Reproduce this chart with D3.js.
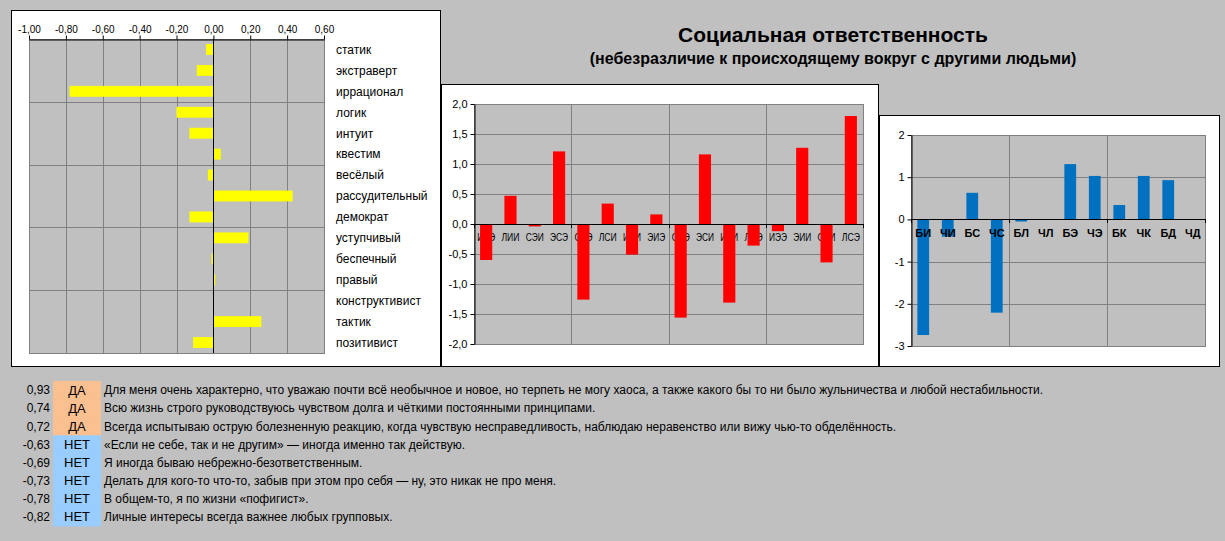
<!DOCTYPE html>
<html><head><meta charset="utf-8">
<script src="https://cdn.jsdelivr.net/npm/d3@7"></script>
<style>
html,body{margin:0;padding:0;background:#c0c0c0;}
svg{display:block;font-family:Arial,"Liberation Sans",sans-serif;}
</style></head>
<body>
<svg id="c" width="1225" height="541"></svg>
<script>
// ---------- DATA ----------
const leftCats = ["статик","экстраверт","иррационал","логик","интуит","квестим","весёлый","рассудительный","демократ","уступчивый","беспечный","правый","конструктивист","тактик","позитивист"];
const leftVals = [-0.04,-0.09,-0.78,-0.20,-0.13,0.04,-0.03,0.43,-0.13,0.19,-0.01,0.01,0.00,0.26,-0.11];
const leftTicks = [-1.0,-0.8,-0.6,-0.4,-0.2,0.0,0.2,0.4,0.6];

const midCats = ["ИЛЭ","ЛИИ","СЭИ","ЭСЭ","СЛЭ","ЛСИ","ИЭИ","ЭИЭ","СЭЭ","ЭСИ","ИЛИ","ЛИЭ","ИЭЭ","ЭИИ","СЛИ","ЛСЭ"];
const midVals = [-0.60,0.47,-0.04,1.21,-1.26,0.34,-0.51,0.16,-1.56,1.16,-1.31,-0.36,-0.12,1.27,-0.64,1.80];
const midTicks = [2.0,1.5,1.0,0.5,0.0,-0.5,-1.0,-1.5,-2.0];

const rightCats = ["БИ","ЧИ","БС","ЧС","БЛ","ЧЛ","БЭ","ЧЭ","БК","ЧК","БД","ЧД"];
const rightVals = [-2.74,-0.41,0.63,-2.21,-0.05,0.00,1.31,1.03,0.34,1.03,0.93,0.00];
const rightTicks = [2,1,0,-1,-2,-3];

const stmtScores = [0.93,0.74,0.72,-0.63,-0.69,-0.73,-0.78,-0.82];
const stmtAnswers = ["ДА","ДА","ДА","НЕТ","НЕТ","НЕТ","НЕТ","НЕТ"];
const stmtTexts = [
 "Для меня очень характерно, что уважаю почти всё необычное и новое, но терпеть не могу хаоса, а также какого бы то ни было жульничества и любой нестабильности.",
 "Всю жизнь строго руководствуюсь чувством долга и чёткими постоянными принципами.",
 "Всегда испытываю острую болезненную реакцию, когда чувствую несправедливость, наблюдаю неравенство или вижу чью-то обделённость.",
 "«Если не себе, так и не другим» — иногда именно так действую.",
 "Я иногда бываю небрежно-безответственным.",
 "Делать для кого-то что-то, забыв при этом про себя — ну, это никак не про меня.",
 "В общем-то, я по жизни «пофигист».",
 "Личные интересы всегда важнее любых групповых."
];
const titleText = "Социальная ответственность";
const subtitleText = "(небезразличие к происходящему вокруг с другими людьми)";

// ---------- HELPERS ----------
const svg = d3.select("#c");
const fmt = n => v => v.toFixed(n).replace(".", ",");
const GRID = "#808080", PLOT = "#c0c0c0";
const FONT = "Arial,'Liberation Sans',sans-serif";

function panel(x,y,w,h){
  svg.append("rect").attr("x",x+0.5).attr("y",y+0.5).attr("width",w).attr("height",h)
    .attr("fill","#fff").attr("stroke","#000").attr("stroke-width",1);
}

// ---------- LEFT CHART ----------
panel(11,10,429,356);
{
  const L=29,R=324,T=39,B=353;
  const x = d3.scaleLinear().domain([-1,0.6]).range([L,R]);
  const y = d3.scaleBand().domain(leftCats).range([T,B]).paddingInner(0).paddingOuter(0);
  const g = svg.append("g");
  g.append("rect").attr("x",L).attr("y",T).attr("width",R-L).attr("height",B-T).attr("fill",PLOT);
  g.selectAll(".vg").data(leftTicks.slice(1)).join("line")
    .attr("x1",d=>Math.round(x(d))+0.5).attr("x2",d=>Math.round(x(d))+0.5).attr("y1",T).attr("y2",B)
    .attr("stroke",GRID);
  const hIdx = d3.range(3,leftCats.length,3);
  g.selectAll(".hg").data(hIdx).join("line")
    .attr("x1",L).attr("x2",R).attr("y1",i=>Math.round(y(leftCats[i]))+0.5).attr("y2",i=>Math.round(y(leftCats[i]))+0.5)
    .attr("stroke",GRID);
  g.append("rect").attr("x",L+0.5).attr("y",T+0.5).attr("width",R-L).attr("height",B-T)
    .attr("fill","none").attr("stroke",GRID);
  const bh = y.bandwidth()*0.52;
  g.selectAll(".bar").data(leftVals).join("rect")
    .attr("x",d=>x(Math.min(0,d))).attr("width",d=>Math.abs(x(d)-x(0)))
    .attr("y",(d,i)=>y(leftCats[i])+(y.bandwidth()-bh)/2).attr("height",bh)
    .attr("fill","#ffff00");
  g.append("line").attr("x1",Math.round(x(0))+0.5).attr("x2",Math.round(x(0))+0.5).attr("y1",T).attr("y2",B).attr("stroke","#000");
  const ax = d3.axisTop(x).tickValues(leftTicks).tickFormat(fmt(2)).tickSize(4).tickSizeOuter(0);
  const axg = svg.append("g").attr("transform",`translate(0,${T+0.5})`).call(ax);
  axg.select(".domain").attr("stroke","#000");
  axg.selectAll("text").attr("font-size","10px").attr("fill","#000").attr("font-family",FONT);
  g.selectAll(".cl").data(leftCats).join("text")
    .attr("x",336).attr("y",d=>y(d)+y.bandwidth()/2).attr("dy","0.36em")
    .attr("font-size","12px").attr("fill","#000").text(d=>d);
}

// ---------- MIDDLE CHART ----------
panel(441,84,437,282);
{
  const L=474,R=863,T=104,B=344;
  const x = d3.scaleBand().domain(midCats).range([L,R]).paddingInner(0).paddingOuter(0);
  const y = d3.scaleLinear().domain([-2,2]).range([B,T]);
  const g = svg.append("g");
  g.append("rect").attr("x",L).attr("y",T).attr("width",R-L).attr("height",B-T).attr("fill",PLOT);
  g.selectAll(".hg").data(midTicks).join("line")
    .attr("x1",L).attr("x2",R).attr("y1",d=>Math.round(y(d))+0.5).attr("y2",d=>Math.round(y(d))+0.5).attr("stroke",GRID);
  const vIdx = d3.range(4,midCats.length,4);
  g.selectAll(".vg").data(vIdx).join("line")
    .attr("x1",i=>Math.round(x(midCats[i]))+0.5).attr("x2",i=>Math.round(x(midCats[i]))+0.5)
    .attr("y1",T).attr("y2",B).attr("stroke",GRID);
  g.append("rect").attr("x",L+0.5).attr("y",T+0.5).attr("width",R-L).attr("height",B-T)
    .attr("fill","none").attr("stroke",GRID);
  // category labels (drawn under the bars)
  g.selectAll(".cl").data(midCats).join("text")
    .attr("x",d=>x(d)+x.bandwidth()/2).attr("y",y(0)+17)
    .attr("text-anchor","middle").attr("font-size","10px").attr("fill","#000")
    .attr("textLength",18).attr("lengthAdjust","spacingAndGlyphs").text(d=>d);
  const bw = x.bandwidth()*0.5;
  g.selectAll(".bar").data(midVals).join("rect")
    .attr("x",(d,i)=>x(midCats[i])+(x.bandwidth()-bw)/2).attr("width",bw)
    .attr("y",d=>y(Math.max(0,d))).attr("height",d=>Math.abs(y(d)-y(0)))
    .attr("fill","#ff0000");
  g.append("line").attr("x1",L).attr("x2",R).attr("y1",Math.round(y(0))+0.5).attr("y2",Math.round(y(0))+0.5).attr("stroke","#000");
  g.selectAll(".zt").data(d3.range(0,midCats.length+1,4)).join("line")
    .attr("x1",i=>Math.round(i<midCats.length?x(midCats[i]):R)+0.5).attr("x2",i=>Math.round(i<midCats.length?x(midCats[i]):R)+0.5)
    .attr("y1",Math.round(y(0))).attr("y2",Math.round(y(0))+4).attr("stroke","#000");
  const ay = d3.axisLeft(y).tickValues(midTicks).tickFormat(fmt(1)).tickSize(4).tickSizeOuter(0);
  const ayg = svg.append("g").attr("transform",`translate(${L+0.5},0)`).call(ay);
  ayg.select(".domain").attr("stroke","#000");
  ayg.selectAll("text").attr("font-size","11px").attr("fill","#000").attr("font-family",FONT);
}

// ---------- RIGHT CHART ----------
panel(879,115,340,251);
{
  const L=911,R=1205,T=135,B=346;
  const x = d3.scaleBand().domain(rightCats).range([L,R]).paddingInner(0).paddingOuter(0);
  const y = d3.scaleLinear().domain([-3,2]).range([B,T]);
  const g = svg.append("g");
  g.append("rect").attr("x",L).attr("y",T).attr("width",R-L).attr("height",B-T).attr("fill",PLOT);
  g.selectAll(".hg").data(rightTicks).join("line")
    .attr("x1",L).attr("x2",R).attr("y1",d=>Math.round(y(d))+0.5).attr("y2",d=>Math.round(y(d))+0.5).attr("stroke",GRID);
  const vIdx = d3.range(4,rightCats.length,4);
  g.selectAll(".vg").data(vIdx).join("line")
    .attr("x1",i=>Math.round(x(rightCats[i]))+0.5).attr("x2",i=>Math.round(x(rightCats[i]))+0.5)
    .attr("y1",T).attr("y2",B).attr("stroke",GRID);
  g.append("rect").attr("x",L+0.5).attr("y",T+0.5).attr("width",R-L).attr("height",B-T)
    .attr("fill","none").attr("stroke",GRID);
  const bw = x.bandwidth()*0.48;
  g.selectAll(".bar").data(rightVals).join("rect")
    .attr("x",(d,i)=>x(rightCats[i])+(x.bandwidth()-bw)/2).attr("width",bw)
    .attr("y",d=>y(Math.max(0,d))).attr("height",d=>Math.abs(y(d)-y(0)))
    .attr("fill","#0070c0");
  g.append("line").attr("x1",L).attr("x2",R).attr("y1",Math.round(y(0))+0.5).attr("y2",Math.round(y(0))+0.5).attr("stroke","#000");
  g.selectAll(".zt").data(d3.range(0,rightCats.length+1,4)).join("line")
    .attr("x1",i=>Math.round(i<rightCats.length?x(rightCats[i]):R)+0.5).attr("x2",i=>Math.round(i<rightCats.length?x(rightCats[i]):R)+0.5)
    .attr("y1",Math.round(y(0))).attr("y2",Math.round(y(0))+4).attr("stroke","#000");
  g.selectAll(".cl").data(rightCats).join("text")
    .attr("x",d=>x(d)+x.bandwidth()/2).attr("y",y(0)+10).attr("dy","0.71em")
    .attr("text-anchor","middle").attr("font-size","11px").attr("font-weight","bold").attr("fill","#000").text(d=>d);
  const ay = d3.axisLeft(y).tickValues(rightTicks).tickFormat(d=>String(d)).tickSize(4).tickSizeOuter(0);
  const ayg = svg.append("g").attr("transform",`translate(${L+0.5},0)`).call(ay);
  ayg.select(".domain").attr("stroke","#000");
  ayg.selectAll("text").attr("font-size","11px").attr("fill","#000").attr("font-family",FONT);
}

// ---------- TITLE ----------
svg.append("text").attr("x",833).attr("y",34).attr("dy","0.36em").attr("text-anchor","middle")
  .attr("font-size","21px").attr("font-weight","bold").attr("fill","#000").text(titleText);
svg.append("text").attr("x",833).attr("y",58).attr("dy","0.36em").attr("text-anchor","middle")
  .attr("font-size","16px").attr("font-weight","bold").attr("fill","#000").text(subtitleText);

// ---------- STATEMENT TABLE ----------
{
  const rowH = 18.1, top = 381;
  const ry = d3.scaleBand().domain(d3.range(stmtTexts.length)).range([top, top+rowH*stmtTexts.length]).padding(0);
  const g = svg.append("g");
  g.selectAll(".box").data(stmtAnswers).join("rect")
    .attr("x",53).attr("width",48).attr("y",(d,i)=>ry(i)).attr("height",ry.bandwidth()+0.6)
    .attr("fill",d=>d==="ДА"?"#fac090":"#99ccff");
  g.selectAll(".sc").data(stmtScores).join("text")
    .attr("x",50).attr("y",(d,i)=>ry(i)+ry.bandwidth()/2).attr("dy","0.36em").attr("text-anchor","end")
    .attr("font-size","12px").attr("fill","#000").text(d=>d.toFixed(2).replace(".",","));
  g.selectAll(".an").data(stmtAnswers).join("text")
    .attr("x",77).attr("y",(d,i)=>ry(i)+ry.bandwidth()/2).attr("dy","0.36em").attr("text-anchor","middle")
    .attr("font-size","13px").attr("fill","#000").text(d=>d);
  g.selectAll(".tx").data(stmtTexts).join("text")
    .attr("x",104).attr("y",(d,i)=>ry(i)+ry.bandwidth()/2).attr("dy","0.36em")
    .attr("font-size","12px").attr("fill","#000").text(d=>d);
}
</script>
</body></html>
